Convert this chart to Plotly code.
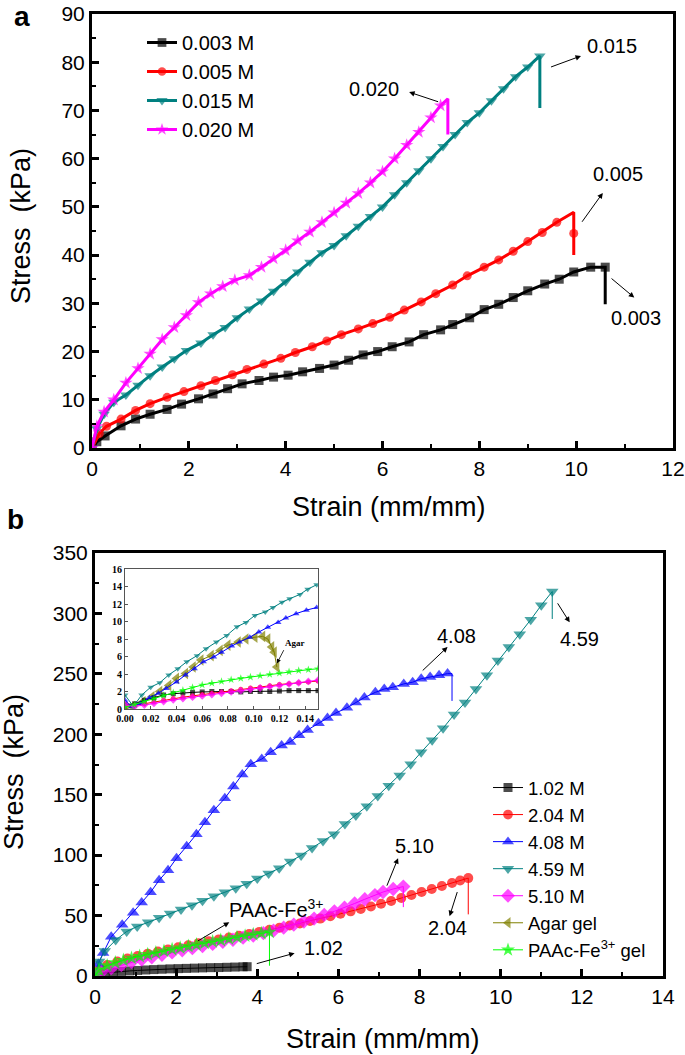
import plotly.graph_objects as go

# ---------------- Panel a data ----------------
a003_x = [0, 0.1, 0.27, 0.6, 0.9, 1.2, 1.55, 1.85, 2.2, 2.5, 2.8, 3.1, 3.45, 3.75, 4.05, 4.35, 4.7, 5.0, 5.3, 5.6, 5.9, 6.2, 6.55, 6.85, 7.2, 7.45, 7.8, 8.1, 8.4, 8.7, 9.0, 9.35, 9.65, 9.95, 10.3, 10.6, 10.6]
a003_y = [0, 1.3, 2.5, 4.6, 6, 7, 8, 9.1, 10.2, 11.2, 12.3, 13.3, 14, 14.7, 15.1, 15.8, 16.5, 17.2, 18.2, 19.3, 20, 21, 22, 23.5, 24.5, 25.6, 27, 28.7, 29.8, 31.2, 32.6, 34, 35, 36.5, 37.5, 37.5, 29.8]

a005_x = [0, 0.15, 0.3, 0.6, 0.9, 1.2, 1.55, 1.9, 2.25, 2.55, 2.9, 3.2, 3.55, 3.9, 4.2, 4.55, 4.85, 5.15, 5.5, 5.8, 6.15, 6.45, 6.8, 7.1, 7.45, 7.75, 8.1, 8.4, 8.7, 9.0, 9.3, 9.6, 9.95, 9.95, 9.95]
a005_y = [0, 3, 4.5, 6, 7.8, 9.2, 10.5, 11.7, 12.9, 14, 15.2, 16.3, 17.4, 18.6, 19.8, 21, 22.2, 23.5, 24.7, 25.8, 27.1, 28.6, 30.3, 32, 33.8, 35.7, 37.5, 39.0, 40.8, 42.8, 44.7, 46.8, 48.9, 44.5, 40]

a015_x = [0, 0.1, 0.25, 0.45, 0.7, 0.95, 1.2, 1.45, 1.7, 1.95, 2.25, 2.5, 2.75, 3.0, 3.25, 3.5, 3.75, 4.0, 4.25, 4.5, 4.75, 5.0, 5.25, 5.5, 5.75, 6.0, 6.25, 6.5, 6.75, 7.0, 7.25, 7.5, 7.75, 8.0, 8.25, 8.5, 8.75, 9.0, 9.25, 9.25]
a015_y = [0, 4, 7, 9.5, 11, 13, 15, 16.8, 18.5, 20.2, 21.8, 23.5, 25, 27, 28.8, 30.5, 32.5, 34.5, 36.5, 38.5, 40.5, 42, 44, 46, 48, 50, 52.5, 55, 57.5, 60, 62.5, 65, 67.5, 69.5, 72, 74.5, 77, 79, 81.3, 70.5]

a020_x = [0, 0.1, 0.25, 0.45, 0.7, 0.95, 1.2, 1.45, 1.7, 1.95, 2.2, 2.45, 2.7, 2.95, 3.25, 3.5, 3.75, 4.0, 4.25, 4.5, 4.75, 5.0, 5.25, 5.5, 5.75, 6.0, 6.25, 6.5, 6.75, 7.0, 7.2, 7.35, 7.35]
a020_y = [0, 4.5, 7.5, 10, 13.5, 16.5, 19.5, 22.5, 25, 27.5, 30.2, 32, 33.5, 34.8, 35.8, 37.5, 39.3, 41, 43, 44.8, 46.8, 48.8, 50.8, 52.8, 55, 57.3, 60, 62.8, 65.5, 68.5, 71, 72.4, 65]

a_names = ["0.003 M", "0.005 M", "0.015 M", "0.020 M"]

# ---------------- Panel b data ----------------
b102_x = [0, 0.1, 0.25, 0.45, 0.65, 0.85, 1.05, 1.25, 1.45, 1.65, 1.85, 2.05, 2.25, 2.45, 2.65, 2.85, 3.05, 3.25, 3.45, 3.65, 3.75]
b102_y = [0, 1.5, 2.5, 3.2, 3.8, 4.2, 4.6, 5.0, 5.3, 5.6, 5.9, 6.1, 6.3, 6.5, 6.7, 6.9, 7.0, 7.2, 7.4, 7.6, 7.7]

b204_x = [0, 0.1, 0.3, 0.55, 0.8, 1.05, 1.3, 1.55, 1.8, 2.05, 2.3, 2.55, 2.8, 3.05, 3.3, 3.55, 3.8, 4.05, 4.3, 4.55, 4.8, 5.05, 5.3, 5.55, 5.8, 6.05, 6.3, 6.55, 6.8, 7.05, 7.3, 7.55, 7.8, 8.05, 8.3, 8.55, 8.8, 9.0, 9.2, 9.2]
b204_y = [0, 5, 9, 12, 14.5, 16.5, 18.5, 20.3, 22, 23.8, 25.5, 27.2, 28.8, 30.3, 31.8, 33.3, 34.8, 36.5, 38.2, 40, 41.8, 43.5, 45.5, 47.5, 49.5, 51.5, 53.5, 55.5, 57.5, 59.8, 62, 64.5, 67, 69.5, 72, 74.5, 77, 79, 81, 51]

b408_x = [0, 0.08, 0.2, 0.4, 0.67, 0.94, 1.15, 1.37, 1.58, 1.80, 2.01, 2.26, 2.50, 2.71, 2.93, 3.20, 3.41, 3.63, 3.84, 4.11, 4.33, 4.60, 4.81, 5.03, 5.24, 5.51, 5.73, 5.94, 6.21, 6.43, 6.64, 6.91, 7.13, 7.34, 7.61, 7.83, 8.04, 8.26, 8.48, 8.69, 8.8, 8.8]
b408_y = [0, 10, 19, 32.5, 42.4, 52.3, 60.8, 69.3, 79.2, 87.6, 97.5, 107.4, 117.3, 127.2, 137.1, 147, 156.9, 166.8, 175.3, 179.5, 185.2, 190.8, 193.7, 199.3, 203.6, 209.2, 213.5, 217.7, 221.9, 226.2, 230.4, 234.7, 237.5, 238.9, 241.7, 243.1, 246, 247.4, 248.8, 250.2, 250.2, 227.6]

b459_x = [0, 0.1, 0.24, 0.51, 0.78, 1.04, 1.31, 1.58, 1.85, 2.12, 2.39, 2.65, 2.93, 3.2, 3.47, 3.74, 4.0, 4.28, 4.54, 4.81, 5.08, 5.35, 5.62, 5.89, 6.16, 6.43, 6.70, 6.97, 7.24, 7.51, 7.78, 8.04, 8.31, 8.58, 8.85, 9.12, 9.39, 9.66, 9.93, 10.2, 10.47, 10.74, 11.0, 11.27, 11.27]
b459_y = [0, 12, 20.6, 29.7, 36.8, 41, 44.4, 48.1, 51.7, 55.1, 58.5, 62.2, 65.9, 69.3, 72.7, 76.3, 80.6, 84.8, 89.1, 94.7, 99.8, 106, 111.7, 117.3, 125.8, 132.9, 140.5, 149, 157.5, 166, 175.3, 185.2, 195.1, 205, 216.3, 226.2, 237.5, 248.8, 261, 272.3, 282.7, 294.8, 306.8, 318.1, 295.4]

b510_x = [0, 0.15, 0.4, 0.65, 0.9, 1.15, 1.4, 1.65, 1.9, 2.15, 2.4, 2.65, 2.9, 3.15, 3.4, 3.65, 3.9, 4.15, 4.4, 4.65, 4.9, 5.15, 5.4, 5.65, 5.9, 6.15, 6.4, 6.65, 6.9, 7.1, 7.35, 7.6, 7.6]
b510_y = [0, 3, 6.5, 9, 11.5, 13.5, 15.5, 17.5, 19.5, 21.3, 23, 24.8, 26.5, 28.3, 30, 31.8, 33.5, 35.5, 37.5, 40, 42.5, 45, 47.5, 50.5, 53.5, 56.5, 60, 63.5, 67, 69.5, 72, 74, 57]

bpaac_x = [0, 0.1, 0.3, 0.5, 0.7, 0.9, 1.1, 1.3, 1.5, 1.7, 1.9, 2.1, 2.3, 2.5, 2.7, 2.9, 3.1, 3.3, 3.5, 3.7, 3.9, 4.1, 4.3, 4.3]
bpaac_y = [0, 5, 8.5, 11, 13, 14.8, 16.3, 17.8, 19.2, 20.6, 22, 23.3, 24.6, 25.9, 27.2, 28.4, 29.6, 30.8, 32, 33.2, 34.3, 35.3, 36.3, 8.5]

b_names = ["1.02 M", "2.04 M", "4.08 M", "4.59 M", "5.10 M", "Agar gel", "PAAc-Fe<sup>3+</sup> gel"]

# ---------------- Inset data (small strain) ----------------
in_grid = [0, 0.0075, 0.015, 0.0225, 0.03, 0.0375, 0.045, 0.0525, 0.06, 0.0675, 0.075, 0.0825, 0.09, 0.0975, 0.105, 0.1125, 0.12, 0.1275, 0.135, 0.1425, 0.15]
in_black_y = [0.5, 0.6, 1.0, 1.3, 1.6, 1.75, 1.85, 1.9, 1.95, 2.0, 2.0, 2.0, 1.95, 2.0, 2.0, 2.0, 2.05, 2.1, 2.1, 2.1, 2.1]
in_red_y = [0.3, 0.4, 0.6, 0.8, 1.0, 1.2, 1.35, 1.5, 1.65, 1.8, 1.95, 2.1, 2.25, 2.4, 2.5, 2.65, 2.8, 2.9, 3.0, 3.1, 3.2]
in_magenta_y = [0.5, 0.3, 0.45, 0.65, 0.85, 1.05, 1.2, 1.35, 1.5, 1.65, 1.8, 1.95, 2.1, 2.25, 2.4, 2.55, 2.7, 2.85, 3.0, 3.15, 3.3]
in_green_y = [0.2, 0.5, 0.85, 1.2, 1.55, 1.85, 2.15, 2.45, 2.75, 2.95, 3.15, 3.35, 3.5, 3.65, 3.8, 3.95, 4.1, 4.25, 4.4, 4.5, 4.6]

in_teal_x = [0, 0.0065, 0.013, 0.02, 0.027, 0.034, 0.041, 0.048, 0.056, 0.063, 0.071, 0.079, 0.087, 0.094, 0.101, 0.109, 0.115, 0.122, 0.128, 0.136, 0.142, 0.149]
in_teal_y = [1.6, 0.3, 1.6, 2.5, 3.0, 3.9, 4.6, 5.4, 6.1, 6.9, 7.65, 8.4, 9.4, 9.9, 10.7, 11.1, 11.6, 12.2, 12.6, 13.1, 13.7, 14.2]
in_blue_x = [0, 0.005, 0.012, 0.019, 0.026, 0.032, 0.04, 0.047, 0.054, 0.061, 0.069, 0.075, 0.083, 0.089, 0.097, 0.104, 0.111, 0.119, 0.125, 0.133, 0.141, 0.149]
in_blue_y = [1.0, 0.27, 0.64, 1.3, 1.8, 2.35, 3.1, 3.9, 4.6, 5.4, 5.95, 6.5, 7.2, 7.65, 8.2, 8.8, 9.35, 9.9, 10.4, 10.9, 11.3, 11.6]
in_agar_x = [0, 0.006, 0.014, 0.021, 0.027, 0.034, 0.04, 0.047, 0.053, 0.059, 0.067, 0.074, 0.08, 0.088, 0.094, 0.101, 0.107, 0.111, 0.114, 0.116, 0.118]
in_agar_y = [0, 0.27, 0.83, 1.4, 2.0, 2.7, 3.5, 4.05, 4.8, 5.6, 6.1, 6.7, 7.3, 7.65, 8.0, 8.2, 8.3, 8.0, 7.1, 6.5, 4.8]

FONT = "Liberation Sans, Arial, sans-serif"
SERIF = "Liberation Serif, Times New Roman, serif"

fig = go.Figure()


def add(x, y, name, color, symbol, xa, ya, legend, size, lw, hide=(), showlegend=True, group=None):
    sizes = [size] * len(x)
    for i in hide:
        sizes[i] = 0
    fig.add_trace(go.Scatter(
        x=x, y=y, name=name, mode="lines+markers", xaxis=xa, yaxis=ya,
        legend=legend, legendgroup=group, showlegend=showlegend,
        line=dict(color=color, width=lw),
        marker=dict(symbol=symbol, size=sizes, color=color, line=dict(width=0)),
    ))


# panel a
add(a003_x, a003_y, a_names[0], "#000000", "square", "x", "y", "legend", 9, 3, hide=(-1,))
add(a005_x, a005_y, a_names[1], "#ff0000", "circle", "x", "y", "legend", 9, 3, hide=(-3, -1))
add(a015_x, a015_y, a_names[2], "#008080", "triangle-down", "x", "y", "legend", 10, 3, hide=(-1,))
add(a020_x, a020_y, a_names[3], "#ff00ff", "star", "x", "y", "legend", 10, 3, hide=(-2, -1))

# panel b
add(b102_x, b102_y, b_names[0], "#000000", "square", "x2", "y2", "legend2", 9, 1)
add(b204_x, b204_y, b_names[1], "#ff0000", "circle", "x2", "y2", "legend2", 10, 1, hide=(-1,))
add(b408_x, b408_y, b_names[2], "#0000ff", "triangle-up", "x2", "y2", "legend2", 11, 1, hide=(-2, -1))
add(b459_x, b459_y, b_names[3], "#008080", "triangle-down", "x2", "y2", "legend2", 11, 1, hide=(-1,))
add(b510_x, b510_y, b_names[4], "#ff00ff", "diamond", "x2", "y2", "legend2", 11, 1, hide=(-1,))
add(in_agar_x, in_agar_y, b_names[5], "#808000", "triangle-left", "x3", "y3", "legend2", 10, 1)
add(bpaac_x, bpaac_y, b_names[6], "#00ff00", "star", "x2", "y2", "legend2", 11, 1, hide=(-1,))

# inset
add(in_grid, in_black_y, "i1", "#000000", "square", "x3", "y3", "legend", 5, 1, showlegend=False)
add(in_grid, in_red_y, "i2", "#ff0000", "circle", "x3", "y3", "legend", 5, 1, showlegend=False)
add(in_blue_x, in_blue_y, "i3", "#0000ff", "triangle-up", "x3", "y3", "legend", 6, 1, showlegend=False)
add(in_teal_x, in_teal_y, "i4", "#008080", "triangle-down", "x3", "y3", "legend", 6, 1, showlegend=False)
add(in_grid, in_magenta_y, "i5", "#ff00ff", "diamond", "x3", "y3", "legend", 6, 1, showlegend=False)
add(in_grid, in_green_y, "i7", "#00ff00", "star", "x3", "y3", "legend", 6, 1, showlegend=False)

W, H = 685, 1055


def px_x(v):
    return v / W


def px_y(v):
    return 1 - v / H


axis_common = dict(showline=True, linewidth=3, linecolor="black", mirror=True,
                   ticks="inside", ticklen=7, tickwidth=2.5, tickcolor="black",
                   showgrid=False, zeroline=False, automargin=False, ticklabeloverflow="allow",
                   tickfont=dict(family=FONT, size=21, color="black"))

fig.update_layout(
    width=W, height=H, margin=dict(l=0, r=0, t=0, b=0),
    paper_bgcolor="white", plot_bgcolor="white",
    font=dict(family=FONT, color="black"),
    xaxis=dict(domain=[px_x(92), px_x(673)], anchor="y", range=[0, 12], dtick=2,
               minor=dict(dtick=1, ticks="inside", ticklen=4, tickwidth=2, tickcolor="black"),
               **axis_common),
    yaxis=dict(domain=[px_y(448), px_y(14)], anchor="x", range=[0, 90], dtick=10,
               minor=dict(dtick=5, ticks="inside", ticklen=4, tickwidth=2, tickcolor="black"),
               **axis_common),
    xaxis2=dict(domain=[px_x(95), px_x(663)], anchor="y2", range=[0, 14], dtick=2,
                minor=dict(dtick=1, ticks="inside", ticklen=4, tickwidth=2, tickcolor="black"),
                **axis_common),
    yaxis2=dict(domain=[px_y(976), px_y(553)], anchor="x2", range=[0, 350], dtick=50,
                minor=dict(dtick=25, ticks="inside", ticklen=4, tickwidth=2, tickcolor="black"),
                **axis_common),
    xaxis3=dict(domain=[px_x(125), px_x(318)], anchor="y3", range=[0, 0.15], dtick=0.02,
                tickformat=".2f", showline=True, linewidth=1, linecolor="#555", mirror=True,
                ticks="inside", ticklen=3, tickwidth=1, tickcolor="#555", showgrid=False,
                zeroline=False, automargin=False,
                tickfont=dict(family=SERIF, size=10, color="black", weight="bold")),
    yaxis3=dict(domain=[px_y(709), px_y(569)], anchor="x3", range=[0, 16], dtick=2,
                showline=True, linewidth=1, linecolor="#555", mirror=True,
                ticks="inside", ticklen=3, tickwidth=1, tickcolor="#555", showgrid=False,
                zeroline=False, automargin=False,
                tickfont=dict(family=SERIF, size=10, color="black", weight="bold")),
    legend=dict(x=px_x(142), y=px_y(23), xanchor="left", yanchor="top",
                font=dict(family=FONT, size=20, color="black"), bgcolor="rgba(0,0,0,0)",
                tracegroupgap=0, itemwidth=30),
    legend2=dict(x=px_x(488), y=px_y(769), xanchor="left", yanchor="top",
                 font=dict(family=FONT, size=18.5, color="black"), bgcolor="rgba(0,0,0,0)",
                 tracegroupgap=0, itemwidth=30),
    showlegend=True,
)

ann = []


def label(text, x, y, xr, yr, size=20, angle=0, yanchor="middle", **kw):
    ann.append(dict(text=text, x=x, y=y, xref=xr, yref=yr, showarrow=False, textangle=angle,
                    xanchor="center", yanchor=yanchor, borderpad=kw.get("pad", 1),
                    font=dict(family=kw.get("family", FONT), size=size, color="black",
                              weight=kw.get("weight", "normal"))))


def arrow(tx, ty, hx, hy, xr, yr, width=1):
    ann.append(dict(text="", x=hx, y=hy, ax=tx, ay=ty, xref=xr, yref=yr, axref=xr, ayref=yr,
                    showarrow=True, arrowhead=2, arrowsize=1.1, arrowwidth=width, arrowcolor="black"))


# panel a labels
label("0.015", 10.73, 83.4, "x", "y")
arrow(9.45, 78.9, 10.1, 81.3, "x", "y")
label("0.020", 5.82, 74.5, "x", "y")
arrow(7.18, 71.7, 6.55, 73.8, "x", "y")
label("0.005", 10.87, 56.8, "x", "y")
arrow(10.1, 46.6, 10.55, 52.9, "x", "y")
label("0.003", 11.23, 27, "x", "y")
arrow(10.7, 35.4, 11.2, 31.2, "x", "y")

# panel b labels
label("4.08", 8.9, 281.3, "x2", "y2")
arrow(8.04, 251.6, 8.69, 272.3, "x2", "y2")
label("4.59", 11.95, 279, "x2", "y2")
arrow(11.38, 309.6, 11.7, 292.6, "x2", "y2")
label("5.10", 7.88, 107.4, "x2", "y2")
arrow(7.18, 73.5, 7.47, 97.5, "x2", "y2")
label("2.04", 8.69, 39.6, "x2", "y2")
arrow(8.94, 70.7, 8.74, 49.5, "x2", "y2")
label("PAAc-Fe<sup>3+</sup>", 4.47, 55.7, "x2", "y2")
arrow(2.5, 28.3, 3.31, 44.4, "x2", "y2")
label("1.02", 5.62, 23.2, "x2", "y2")
arrow(3.95, 9.9, 4.92, 18.9, "x2", "y2")

# inset label
label("Agar", 0.132, 7.5, "x3", "y3", size=9, family=SERIF, weight="bold")
arrow(0.124, 6.9, 0.118, 5.2, "x3", "y3", width=0.8)

# axis titles
label("Strain (mm/mm)", px_x(388), px_y(507), "paper", "paper", size=27)
label("Stress\u00a0\u00a0(kPa)", px_x(21), px_y(226), "paper", "paper", size=27, angle=-90)
label("Strain (mm/mm)", px_x(382), px_y(1039), "paper", "paper", size=27)
label("Stress\u00a0\u00a0(kPa)", px_x(14), px_y(772), "paper", "paper", size=27, angle=-90)

# panel letters
label("a", px_x(22), 1.0, "paper", "paper", size=28, yanchor="top", weight="bold", pad=0)
label("b", px_x(15), px_y(519), "paper", "paper", size=28, weight="bold")

fig.update_layout(annotations=ann)
fig.write_html("out.html", post_script="document.body.style.margin='0';",
               config={"displayModeBar": False})
